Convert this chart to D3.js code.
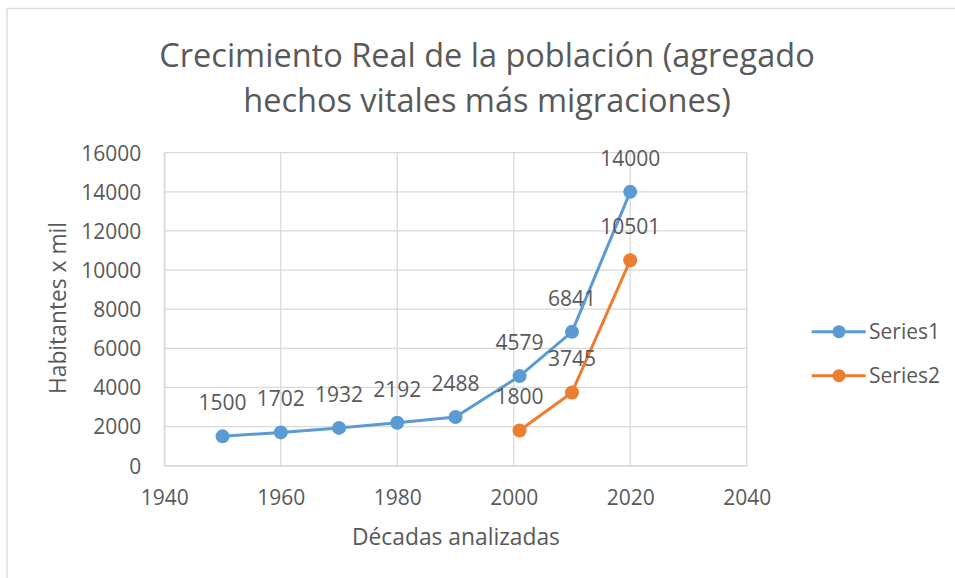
<!DOCTYPE html>
<html><head><meta charset="utf-8">
<script src="https://cdn.jsdelivr.net/npm/d3@7"></script>
<style>body{margin:0;background:#fff}svg{display:block}text{font-family:"Open Sans",sans-serif;fill:#595959}</style>
</head><body>
<script>
const titleLines = ["Crecimiento Real de la población (agregado", "hechos vitales más migraciones)"];
const xAxisTitle = "Décadas analizadas";
const yAxisTitle = "Habitantes x mil";
const seriesNames = ["Series1", "Series2"];
const seriesColors = ["#5B9BD5", "#ED7D31"];
const series1Years = [1950, 1960, 1970, 1980, 1990, 2001, 2010, 2020];
const series1Values = [1500, 1702, 1932, 2192, 2488, 4579, 6841, 14000];
const series2Years = [2001, 2010, 2020];
const series2Values = [1800, 3745, 10501];
const xTicks = [1940, 1960, 1980, 2000, 2020, 2040];
const yTicks = [0, 2000, 4000, 6000, 8000, 10000, 12000, 14000, 16000];

const W = 955, H = 578;
const svg = d3.select("body").append("svg").attr("width", W).attr("height", H);
svg.append("rect").attr("x", 7).attr("y", 8.5).attr("width", W).attr("height", H)
  .attr("fill", "#fff").attr("stroke", "#D9D9D9").attr("stroke-width", 1.3);

const L = 164.3, R = 746.7, T = 152.7, B = 465.7;
const x = d3.scaleLinear().domain([1940, 2040]).range([L, R]);
const y = d3.scaleLinear().domain([0, 16000]).range([B, T]);

// gridlines
const g = svg.append("g");
g.selectAll(".hg").data(yTicks).join("line")
  .attr("x1", L).attr("x2", R).attr("y1", d => y(d)).attr("y2", d => y(d))
  .attr("stroke", "#D9D9D9").attr("stroke-width", 1.3);
g.selectAll(".vg").data(xTicks).join("line")
  .attr("y1", T).attr("y2", B).attr("x1", d => x(d)).attr("x2", d => x(d))
  .attr("stroke", "#D9D9D9").attr("stroke-width", 1.3);

// axes
const xa = svg.append("g").attr("transform", `translate(0,${B})`)
  .call(d3.axisBottom(x).tickValues(xTicks).tickSize(0).tickPadding(0).tickFormat(d3.format("d")));
xa.select(".domain").attr("stroke", "#D9D9D9").attr("stroke-width", 1.3);
xa.selectAll("text").attr("dy", null).attr("y", 39).style("font-size", "21px").attr("fill", "#595959");
const ya = svg.append("g").attr("transform", `translate(${L},0)`)
  .call(d3.axisLeft(y).tickValues(yTicks).tickSize(0).tickPadding(23).tickFormat(d3.format("d")));
ya.select(".domain").attr("stroke", "#D9D9D9").attr("stroke-width", 1.3);
ya.selectAll("text").attr("dy", "0.35em").style("font-size", "21px").attr("fill", "#595959");

// title
svg.selectAll(".title").data(titleLines).join("text")
  .attr("x", 487).attr("y", (d, i) => 67 + i * 45)
  .attr("text-anchor", "middle").style("font-size", "32.5px").text(d => d);

svg.append("text").attr("x", 456).attr("y", 545).attr("text-anchor", "middle")
  .style("font-size", "22.8px").text(xAxisTitle);
svg.append("text").attr("transform", "translate(66,308) rotate(-90)").attr("text-anchor", "middle")
  .style("font-size", "22.8px").text(yAxisTitle);

// series
const data = [
  series1Years.map((yr, i) => ({x: yr, y: series1Values[i]})),
  series2Years.map((yr, i) => ({x: yr, y: series2Values[i]}))
];
const line = d3.line().x(d => x(d.x)).y(d => y(d.y));
data.forEach((pts, si) => {
  const sg = svg.append("g");
  sg.append("path").datum(pts).attr("d", line).attr("fill", "none")
    .attr("stroke", seriesColors[si]).attr("stroke-width", 3).attr("stroke-linejoin", "round");
  sg.selectAll("circle").data(pts).join("circle")
    .attr("cx", d => x(d.x)).attr("cy", d => y(d.y)).attr("r", 7).attr("fill", seriesColors[si]);
  sg.selectAll("text").data(pts).join("text")
    .attr("x", d => x(d.x)).attr("y", d => y(d.y) - 26).attr("text-anchor", "middle")
    .style("font-size", "21px").attr("fill", "#404040").text(d => d.y);
});

// legend
seriesNames.forEach((name, i) => {
  const ly = 331.7 + i * 44;
  svg.append("line").attr("x1", 811.7).attr("x2", 865.7).attr("y1", ly).attr("y2", ly)
    .attr("stroke", seriesColors[i]).attr("stroke-width", 3);
  svg.append("circle").attr("cx", 839).attr("cy", ly).attr("r", 6.5).attr("fill", seriesColors[i]);
  svg.append("text").attr("x", 869).attr("y", ly).attr("dy", "0.35em").style("font-size", "21px").text(name);
});
</script>
</body></html>
